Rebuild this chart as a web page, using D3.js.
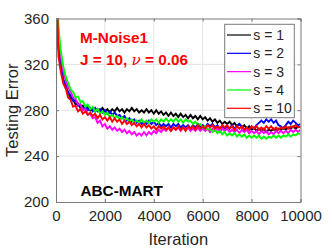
<!DOCTYPE html>
<html><head><meta charset="utf-8">
<script src="https://cdn.jsdelivr.net/npm/d3@7/dist/d3.min.js"></script>
<style>body{margin:0;background:#fff}svg{display:block}text{font-family:Arial,"Liberation Sans",sans-serif}</style>
</head><body><svg id="c" width="332" height="249"></svg>
<script>
const iterStep = 100;
const seriesNames = ["s = 1","s = 2","s = 3","s = 4","s = 10"];
const seriesColors = ["#000000","#0000ff","#ff00ff","#00ff00","#ff0000"];
const xTicks = [0,2000,4000,6000,8000,10000];
const yTicks = [200,240,280,320,360];
const s1 = [420,337,317,307,299,296,290,289,285,286,282,284,281,283,280,282,279,281,279,282,279,281,278,281,279,282,279,281,278,281,279,282,279,281,278,280,278,281,278,280,277,280,277,279,276,278,275,278,275,277,274,277,274,276,273,276,273,275,272,275,272,274,271,273,270,272,269,271,268,270,268,270,267,269,266,268,265,267,264,266,263,265,262,264,262,264,261,263,262,264,262,264,263,265,263,265,264,266,264,266,265];
const s2 = [420,334,319,306,302,295,293,288,289,284,285,281,283,280,282,279,282,279,281,278,280,277,279,276,278,275,276,273,275,271,273,270,272,269,271,268,270,268,271,268,270,267,269,266,268,266,268,265,268,266,268,265,267,265,267,264,267,265,268,265,267,265,268,266,268,265,267,264,266,264,266,264,267,264,266,268,266,263,265,263,265,264,267,269,271,269,272,270,272,269,271,267,266,264,267,270,268,271,269,267,268];
const s3 = [420,346,327,314,306,300,296,291,290,285,285,280,281,276,277,273,274,269,271,266,268,264,266,263,265,262,264,261,263,260,262,259,261,258,260,258,261,258,261,259,262,260,263,261,264,262,265,262,265,263,265,262,265,263,265,262,264,262,265,262,264,262,264,261,264,262,264,261,264,262,264,261,263,261,263,260,263,261,263,260,262,260,262,259,262,260,262,259,261,259,262,260,262,260,262,260,263,261,263,261,263];
const s4 = [420,352,331,318,309,304,298,296,291,292,287,288,283,285,281,283,279,281,277,279,276,278,274,276,273,275,272,274,271,273,270,272,269,271,269,272,269,271,269,272,270,272,269,272,270,273,270,272,270,273,270,272,269,272,270,271,268,270,267,268,265,266,263,264,261,263,260,262,259,261,258,260,258,260,257,259,257,259,256,258,256,258,256,258,255,257,255,257,256,258,256,258,256,258,257,259,257,259,258,260,259];
const s10 = [420,327,313,303,299,291,289,283,284,279,281,277,279,276,278,275,277,273,276,272,274,271,274,270,273,270,272,268,271,268,270,267,269,266,268,265,268,265,267,264,266,263,266,264,266,263,265,262,265,263,266,263,265,262,266,264,266,263,267,264,266,264,267,265,267,264,266,264,267,265,267,264,266,263,266,264,266,263,265,263,266,264,266,263,265,263,266,264,266,263,265,263,265,264,266,264,266,265,267,265,266];
const allSeries = [s1,s2,s3,s4,s10];

const svg = d3.select("#c");
const L=56, R=300.5, T=18.5, B=202;
const x = d3.scaleLinear().domain([0,10000]).range([L,R]);
const y = d3.scaleLinear().domain([200,360]).range([B,T]);
const axisCol = "#262626";

// grid
svg.append("g").selectAll("line.gx").data(xTicks.slice(1,-1)).join("line")
  .attr("x1",d=>x(d)).attr("x2",d=>x(d)).attr("y1",T).attr("y2",B)
  .attr("stroke","#e3e3e3").attr("stroke-width",1);
svg.append("g").selectAll("line.gy").data(yTicks.slice(1,-1)).join("line")
  .attr("y1",d=>y(d)).attr("y2",d=>y(d)).attr("x1",L).attr("x2",R)
  .attr("stroke","#e3e3e3").attr("stroke-width",1);

// lines
svg.append("defs").append("clipPath").attr("id","clip").append("rect")
  .attr("x",L).attr("y",T).attr("width",R-L).attr("height",B-T);
const line = d3.line().x((d,i)=>x(i*iterStep)).y(d=>y(d));
svg.append("g").attr("clip-path","url(#clip)").selectAll("path").data(allSeries).join("path")
  .attr("d",line).attr("fill","none").attr("stroke",(d,i)=>seriesColors[i])
  .attr("stroke-width",1.9).attr("stroke-linejoin","miter");

// axes
const gx = svg.append("g").attr("transform",`translate(0,${B})`)
  .call(d3.axisBottom(x).tickValues(xTicks).tickSize(-3).tickPadding(8).tickFormat(d3.format("d")));
const gy = svg.append("g").attr("transform",`translate(${L},0)`)
  .call(d3.axisLeft(y).tickValues(yTicks).tickSize(-3).tickPadding(7));
const gx2 = svg.append("g").attr("transform",`translate(0,${T})`)
  .call(d3.axisTop(x).tickValues(xTicks).tickSize(-3).tickFormat(""));
const gy2 = svg.append("g").attr("transform",`translate(${R},0)`)
  .call(d3.axisRight(y).tickValues(yTicks).tickSize(-3).tickFormat(""));
[gx,gy,gx2,gy2].forEach(g=>{
  g.selectAll("path.domain").attr("stroke","#7a7a7a");
  g.selectAll(".tick line").attr("stroke","#7a7a7a");
  g.selectAll("text").attr("fill",axisCol).style("font-size","15px").style("font-family","Arial, 'Liberation Sans', sans-serif");
});

// axis labels
svg.append("text").attr("x",(L+R)/2).attr("y",245).attr("text-anchor","middle")
  .attr("fill",axisCol).style("font-size","16.5px").text("Iteration");
svg.append("text").attr("transform",`translate(18,${(T+B)/2}) rotate(-90)`).attr("text-anchor","middle")
  .attr("fill",axisCol).style("font-size","16.5px").text("Testing Error");

// annotations
svg.append("text").attr("x",80).attr("y",42.7).attr("fill","#ff0000").style("font-size","15.3px").style("font-weight","bold").text("M-Noise1");
const t2 = svg.append("text").attr("x",80).attr("y",65.3).attr("fill","#ff0000").style("font-size","15.3px").style("font-weight","bold");
t2.append("tspan").text("J = 10, ");
t2.append("tspan").style("font-family","'DejaVu Serif','Liberation Serif',serif").style("font-style","italic").style("font-weight","normal").text("ν");
t2.append("tspan").text(" = 0.06");
svg.append("text").attr("x",80.5).attr("y",196).attr("fill","#000").style("font-size","15.3px").style("font-weight","bold").text("ABC-MART");

// legend
const lg = svg.append("g");
lg.append("rect").attr("x",224.7).attr("y",24.3).attr("width",69.6).attr("height",93.4)
  .attr("fill","#fff").attr("stroke","#7a7a7a").attr("stroke-width",1);
const ly = d3.scaleLinear().domain([0,4]).range([35,108.3]);
seriesNames.forEach((n,i)=>{
  lg.append("line").attr("x1",227).attr("x2",251).attr("y1",ly(i)).attr("y2",ly(i))
    .attr("stroke",seriesColors[i]).attr("stroke-width",1.2);
  lg.append("text").attr("x",253.3).attr("y",ly(i)+5).attr("fill",axisCol).style("font-size","14px").text(n);
});
</script></body></html>
